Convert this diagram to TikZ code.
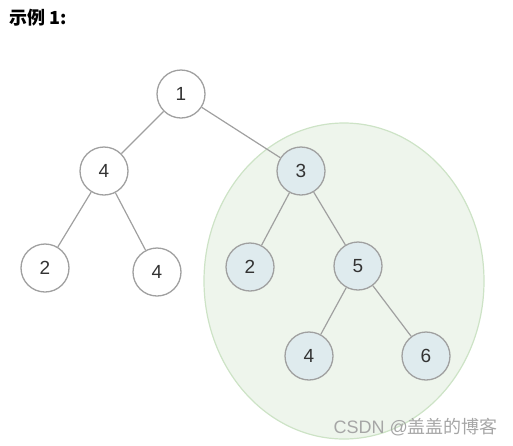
\documentclass[tikz,border=0pt]{standalone}
\usepackage{fontspec}
\setmainfont{Liberation Sans}
\newfontfamily\cjk{Noto Sans CJK SC}
\usetikzlibrary{calc}

\definecolor{edgegray}{HTML}{A0A0A0}
\definecolor{nodefill}{HTML}{DFEBEE}
\definecolor{blobfill}{HTML}{EEF5EC}
\definecolor{blobline}{HTML}{CDE3C6}
\definecolor{marktext}{HTML}{A6A6A6}

\tikzset{
    treenode/.style={circle, draw=edgegray, line width=1.3pt, fill=white,
        minimum size=48pt, inner sep=0pt, font=\fontsize{19}{22}\selectfont, text=black!80},
    subnode/.style={treenode, fill=nodefill},
    treeedge/.style={draw=edgegray, line width=1.2pt}
}

\begin{document}
\begin{tikzpicture}[x=1pt, y=-1pt]
    \useasboundingbox (0,0) rectangle (513,445);

    % title
    \node[anchor=west, inner sep=0pt] (title) at (9,18)
    {\cjk\bfseries\fontsize{18}{20}\selectfont 示例 1:};

    % highlighted subtree
    \fill[blobfill, draw=blobline, line width=1.2pt] (344,281) ellipse [x radius=140, y radius=158];

    % tree
    \node[treenode] (n1) at (181,94) {1};
    \node[treenode] (n4a) at (104,171) {4};
    \node[subnode] (n3) at (301,171) {3};
    \node[treenode] (n2a) at (45,268) {2};
    \node[treenode] (n4b) at (157,272) {4};
    \node[subnode] (n2b) at (250,267) {2};
    \node[subnode] (n5) at (358,266) {5};
    \node[subnode] (n4c) at (309,356) {4};
    \node[subnode] (n6) at (426,356) {6};

    \draw[treeedge] (n1) -- (n4a);
    \draw[treeedge] (n1) -- (n3);
    \draw[treeedge] (n4a) -- (n2a);
    \draw[treeedge] (n4a) -- (n4b);
    \draw[treeedge] (n3) -- (n2b);
    \draw[treeedge] (n3) -- (n5);
    \draw[treeedge] (n5) -- (n4c);
    \draw[treeedge] (n5) -- (n6);

    % watermark
    \node[anchor=east, inner sep=0pt, text=marktext] (mark) at (498,427)
    {\fontsize{18}{20}\selectfont CSDN @{\cjk 盖盖的博客}};
\end{tikzpicture}
\end{document}
